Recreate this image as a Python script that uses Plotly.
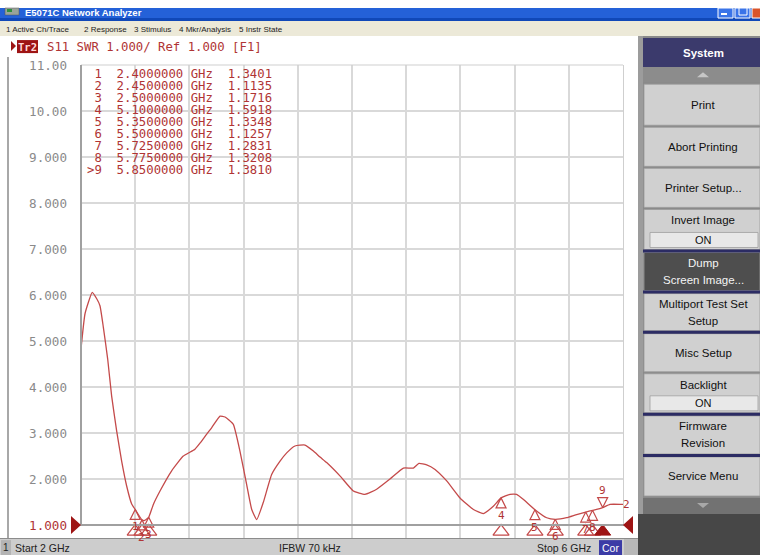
import plotly.graph_objects as go

# ---------------- data ----------------
freq_ghz = [2.000, 2.030, 2.083, 2.116, 2.140, 2.165, 2.197, 2.226, 2.263, 2.300,
            2.337, 2.374, 2.400, 2.450, 2.470, 2.500, 2.534, 2.583, 2.669, 2.755,
            2.841, 2.878, 2.928, 2.965, 3.026, 3.063, 3.124, 3.173, 3.222, 3.260,
            3.297, 3.345, 3.407, 3.469, 3.518, 3.579, 3.653, 3.715, 3.764, 3.813,
            3.911, 4.010, 4.096, 4.182, 4.280, 4.379, 4.453, 4.494, 4.551, 4.613,
            4.699, 4.797, 4.896, 4.969, 5.043, 5.100, 5.166, 5.215, 5.264, 5.350,
            5.437, 5.500, 5.584, 5.658, 5.725, 5.775, 5.805, 5.850, 5.904, 5.990,
            6.000]
swr = [4.83, 5.60, 6.06, 5.92, 5.77, 5.30, 4.61, 3.81, 3.05, 2.39,
       1.85, 1.46, 1.3401, 1.1135, 1.10, 1.1716, 1.45, 1.74, 2.18, 2.50,
       2.65, 2.78, 2.98, 3.12, 3.37, 3.35, 3.19, 2.61, 1.89, 1.34,
       1.12, 1.49, 2.10, 2.39, 2.57, 2.72, 2.74, 2.61, 2.48, 2.36,
       2.07, 1.74, 1.67, 1.78, 2.00, 2.24, 2.24, 2.34, 2.31, 2.21,
       1.96, 1.59, 1.34, 1.25, 1.41, 1.5918, 1.67, 1.67, 1.56, 1.3348,
       1.16, 1.1257, 1.16, 1.23, 1.2831, 1.3208, 1.34, 1.3810, 1.45, 1.45,
       1.45]

marker_ids = ["1", "2", "3", "4", "5", "6", "7", "8", "9"]
marker_freq = [2.4, 2.45, 2.5, 5.1, 5.35, 5.5, 5.725, 5.775, 5.85]
marker_swr = [1.3401, 1.1135, 1.1716, 1.5918, 1.3348, 1.1257, 1.2831, 1.3208, 1.3810]
active_marker = "9"

y_tick_vals = [1, 2, 3, 4, 5, 6, 7, 8, 9, 10, 11]
y_tick_labels = ["1.000", "2.000", "3.000", "4.000", "5.000", "6.000",
                 "7.000", "8.000", "9.000", "10.00", "11.00"]
x_grid_vals = [2.0, 2.4, 2.8, 3.2, 3.6, 4.0, 4.4, 4.8, 5.2, 5.6, 6.0]
x_range = [2.0, 6.0]
y_range = [1.0, 11.0]
trace_name = "2"
header_text = "S11 SWR 1.000/ Ref 1.000 [F1]"
status_start = "Start 2 GHz"
status_ifbw = "IFBW 70 kHz"
status_stop = "Stop 6 GHz"
menu_items = ["1 Active Ch/Trace", "2 Response", "3 Stimulus", "4 Mkr/Analysis", "5 Instr State"]

# ---------------- geometry ----------------
W = 760
REF_H = 555
VS, VOFF = 0.9713, 8.0            # vertical mapping of the photographed page
H = int(round((REF_H - VOFF) / VS))

X0, X1, Y0, Y1 = 81, 623, 65, 524     # plot area (screen pixels)
SY0, SY1 = 524, 537                   # marker strip below the plot
ROW0, ROW_STEP = 75, 11.6             # marker table rows

def px(x):
    return x / W

def pg(y):
    return max(0.0, (y - VOFF) / VS)

def py(y):
    return 1 - pg(y) / H

TRACE_C = "#c44a4a"
TEXT_C = "#b03434"
DARK_RED = "#9e1414"
MONO = "DejaVu Sans Mono"
SANS = "Liberation Sans"
TITLE_BLUE = "#2461d8"

fig = go.Figure()

# trace
fig.add_trace(go.Scatter(x=freq_ghz, y=swr, mode="lines",
                         line=dict(color=TRACE_C, width=1.3, shape="spline", smoothing=0.4),
                         hoverinfo="skip", showlegend=False))

# markers on trace
norm_idx = [i for i, m in enumerate(marker_ids) if m != active_marker]
act_idx = [i for i, m in enumerate(marker_ids) if m == active_marker]
fig.add_trace(go.Scatter(x=[marker_freq[i] for i in norm_idx], y=[marker_swr[i] for i in norm_idx],
                         mode="markers", cliponaxis=False,
                         marker=dict(symbol="arrow-up-open", size=10, color=TRACE_C,
                                     line=dict(color=TRACE_C, width=1.2)),
                         hoverinfo="skip", showlegend=False))
fig.add_trace(go.Scatter(x=[marker_freq[i] for i in act_idx], y=[marker_swr[i] for i in act_idx],
                         mode="markers", cliponaxis=False,
                         marker=dict(symbol="arrow-down-open", size=10, color=TRACE_C,
                                     line=dict(color=TRACE_C, width=1.2)),
                         hoverinfo="skip", showlegend=False))

# marker position strip below the axis (own small axis)
fig.add_trace(go.Scatter(x=[marker_freq[i] for i in norm_idx], y=[0.5] * len(norm_idx),
                         yaxis="y2", mode="markers", cliponaxis=False,
                         marker=dict(symbol="triangle-up-open", size=14, color=TRACE_C,
                                     line=dict(color=TRACE_C, width=1.2)),
                         hoverinfo="skip", showlegend=False))
fig.add_trace(go.Scatter(x=[marker_freq[i] for i in act_idx], y=[0.5] * len(act_idx),
                         yaxis="y2", mode="markers", cliponaxis=False,
                         marker=dict(symbol="triangle-up", size=14, color=DARK_RED,
                                     line=dict(color=DARK_RED, width=1)),
                         hoverinfo="skip", showlegend=False))

annotations = []
shapes = []

# marker numbers
for m, f, v in zip(marker_ids, marker_freq, marker_swr):
    shift = 17.5 if m == active_marker else -17.5
    annotations.append(dict(x=f, y=v, xref="x", yref="y", text=m, showarrow=False,
                            yshift=shift, borderpad=0,
                            font=dict(family=MONO, size=11, color=TEXT_C)))

# trace number at end
annotations.append(dict(x=freq_ghz[-1], y=swr[-1], xref="x", yref="y", text=trace_name,
                        showarrow=False, xanchor="left", xshift=-1, borderpad=0,
                        font=dict(family=MONO, size=11, color=TEXT_C)))

# marker table: one block, tight line pitch (line pitch = 1.3 em of the block font)
rows = []
for m, f, v in zip(marker_ids, marker_freq, marker_swr):
    lab = (">" + m) if m == active_marker else m
    row = f"{lab:>2}  {f:.7f} GHz  {v:.4f}".replace(" ", "\u00a0")
    rows.append('<span style="font-size:12.3px">' + row + "</span>")
pitch_page = ROW_STEP / VS
block_mid = ROW0 + ROW_STEP * (len(rows) - 1) / 2
annotations.append(dict(x=px(86), y=py(block_mid), xref="paper", yref="paper",
                        xanchor="left", yanchor="middle", align="left",
                        text="<br>".join(rows), showarrow=False, borderpad=0,
                        font=dict(family=MONO, size=pitch_page / 1.3, color=TEXT_C)))

# ---------------- window chrome ----------------
def rect(x0, y0, x1, y1, fill, line=None, lw=0):
    shapes.append(dict(type="rect", xref="paper", yref="paper",
                       x0=px(x0), x1=px(x1), y0=py(y1), y1=py(y0),
                       fillcolor=fill, line=dict(color=line or fill, width=lw)))

def path(pts, fill):
    d = "M" + " L".join(f"{px(a):.5f},{py(b):.5f}" for a, b in pts) + " Z"
    shapes.append(dict(type="path", xref="paper", yref="paper", path=d,
                       fillcolor=fill, line=dict(color=fill, width=0)))

def text(x, y, s, size=11, color="#111", family=SANS, anchor="center", bold=False):
    if bold:
        s = "<b>" + s + "</b>"
    annotations.append(dict(x=px(x), y=py(y), xref="paper", yref="paper", text=s,
                            showarrow=False, xanchor=anchor, yanchor="middle", borderpad=0,
                            font=dict(family=family, size=size, color=color)))

# title bar
rect(0, 0, 760, 21, TITLE_BLUE)
rect(0, 18, 760, 21, "#1048b8")
rect(5, 7, 19, 15, "#9aa49a", "#555", 0.5)
rect(7, 9, 12, 12, "#2f8f3f")
text(24, 12, "E5071C Network Analyzer", size=9.5, color="white", anchor="left", bold=True)
rect(718, 4, 733, 18, "#3a74e8", "white", 1)
rect(721, 13, 727, 15, "white")
rect(735, 4, 750, 18, "#3a74e8", "white", 1)
rect(739, 8, 747, 15, "#3a74e8", "white", 1)
rect(752, 4, 767, 18, "#d9542b", "white", 1)

# menu bar
rect(0, 21, 760, 36, "#ece9d8")
for s, x in zip(menu_items, [5, 83, 133, 178, 238]):
    text(x, 29, s, size=8, color="#222", anchor="left")

# chart window frame
rect(7, 57, 9, 537, "#a8a8a8")
rect(623, Y0, 624, Y1, "#cfcfcf")
rect(X0, Y0 - 0.5, X1, Y0 + 0.5, "#cfcfcf")
rect(X0 - 1, Y0, X0 + 1, Y1 + 1, "#a0a0a0")
rect(X0, Y1 - 1, X1 + 1, Y1 + 1, "#a0a0a0")

# header
path([(11, 41), (16, 46), (11, 51)], DARK_RED)
rect(17, 40, 38, 53, DARK_RED)
text(27.5, 46.5, "Tr2", size=10.5, color="#ffd8d8", family=MONO, bold=True)
text(46, 47, header_text, size=12.3, color=TEXT_C, family=MONO, anchor="left")

# reference-line triangles
path([(71, 515), (81, 524), (71, 533)], DARK_RED)
path([(633, 515), (623, 524), (633, 533)], DARK_RED)

# status bar
rect(0, 537, 638, 555, "#cdcdcd")
rect(0, 537, 638, 538, "#8c8c8c")
rect(1, 539, 11, 554, "#b4b4b4")
text(6, 546.5, "1", size=10, color="#222")
text(14, 546.5, status_start, size=10.5, color="#222", anchor="left")
text(310, 546.5, status_ifbw, size=10.5, color="#222")
text(564, 546.5, status_stop, size=10.5, color="#222")
rect(599, 539, 622, 554, "#3b3ba6")
text(610.5, 546.5, "Cor", size=10.5, color="white")
rect(624, 538, 638, 555, "#b8b8b8")

# right softkey panel
rect(638, 36, 760, 555, "#8a8a8a")
rect(638, 36, 643, 555, "#9c9c9c")
rect(643, 38, 760, 67, "#3b3a6c")
text(703, 52.5, "System", size=11.5, color="white", bold=True)
rect(643, 67, 760, 82, "#8c8c8c")
path([(697, 77), (703, 72), (709, 77)], "#c6c6c6")

buttons = [
    (84, 125, ["Print"], None, "#d0d0d0", "#111"),
    (127, 166, ["Abort Printing"], None, "#d0d0d0", "#111"),
    (168, 207, ["Printer Setup..."], None, "#d0d0d0", "#111"),
    (209, 249, ["Invert Image"], "ON", "#d0d0d0", "#111"),
    (252, 290, ["Dump", "Screen Image..."], None, "#4e4e4e", "#f4f4f4"),
    (293, 330, ["Multiport Test Set", "Setup"], None, "#d0d0d0", "#111"),
    (333, 371, ["Misc Setup"], None, "#d0d0d0", "#111"),
    (373, 412, ["Backlight"], "ON", "#d0d0d0", "#111"),
    (415, 453, ["Firmware", "Revision"], None, "#d0d0d0", "#111"),
    (456, 495, ["Service Menu"], None, "#d0d0d0", "#111"),
]
for y0, y1, lines, on, fill, tc in buttons:
    rect(644, y0, 760, y1, fill, "#9a9a9a", 0.8)
    if on:
        text(703, y0 + 11, lines[0], size=11.5, color=tc)
        rect(650, y1 - 17, 758, y1 - 2, "#e8e8e8", "#a0a0a0", 0.8)
        text(703, y1 - 9.5, on, size=11, color=tc)
    elif len(lines) == 2:
        mid = (y0 + y1) / 2
        text(703, mid - 8.5, lines[0], size=11.5, color=tc)
        text(703, mid + 8.5, lines[1], size=11.5, color=tc)
    else:
        text(703, (y0 + y1) / 2, lines[0], size=11.5, color=tc)

for ys in [249, 290, 330, 412, 453]:
    rect(643, ys, 760, ys + 3, "#2c2c64")

rect(643, 497, 760, 513, "#727272")
path([(697, 502), (703, 507), (709, 502)], "#a8a8a8")
rect(638, 513, 760, 555, "#474747")

# ---------------- layout ----------------
tick_text = [f'<span style="color:{TEXT_C}">{t}</span>' if v == y_range[0] else t
             for v, t in zip(y_tick_vals, y_tick_labels)]

fig.update_layout(
    width=W, height=H,
    margin=dict(l=0, r=0, t=0, b=0),
    paper_bgcolor="white", plot_bgcolor="white",
    showlegend=False,
    xaxis=dict(domain=[px(X0), px(X1)], range=x_range, tickvals=x_grid_vals,
               showticklabels=False, showgrid=True, gridcolor="#d9d9d9", gridwidth=1.5,
               zeroline=False, showline=False, ticks="", fixedrange=True),
    yaxis=dict(domain=[py(Y1), py(Y0)], range=y_range, tickvals=y_tick_vals,
               ticktext=tick_text, showgrid=True, gridcolor="#d9d9d9", gridwidth=1.5,
               zeroline=False, showline=False, ticks="", ticklabelstandoff=13,
               tickfont=dict(family=MONO, size=12.6, color="#8a8a8a"), fixedrange=True),
    yaxis2=dict(domain=[py(SY1), py(SY0)], range=[0, 1], anchor="x",
                showgrid=False, showticklabels=False, zeroline=False, showline=False,
                ticks="", fixedrange=True),
    shapes=shapes,
    annotations=annotations,
)

page_css = (
    "var d=document.documentElement,b=document.body;"
    "d.style.margin='0';d.style.padding='0';d.style.overflow='hidden';"
    "d.style.background='" + TITLE_BLUE + "';"
    "b.style.margin='0';b.style.padding='0';b.style.overflow='hidden';"
)
fig.write_html("out.html", config={"displayModeBar": False}, post_script=page_css)
